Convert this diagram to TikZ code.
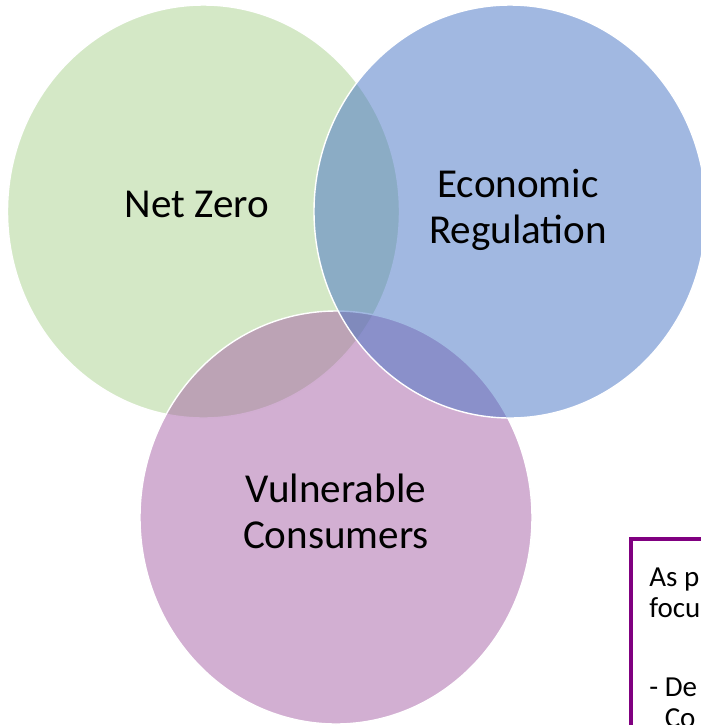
\documentclass[tikz,border=0pt]{standalone}
\usepackage{fontspec}
\setmainfont{Carlito}
\definecolor{nzgreen}{HTML}{A9D18E}
\definecolor{erblue}{HTML}{4472C4}
\definecolor{vcpurple}{HTML}{A55FA5}
\definecolor{boxpurple}{HTML}{800080}
\begin{document}
\begin{tikzpicture}[x=0.02cm, y=-0.02cm,
		venn/.style={draw=white, line width=0.8pt, fill opacity=0.5},
		vennlabel/.style={anchor=base, align=center, text=black, font=\fontsize{23.4}{26.1}\selectfont},
		notetext/.style={anchor=base west, align=left, inner sep=0pt, text=black, font=\fontsize{16.5}{17.6}\selectfont}]
	\useasboundingbox (0,0) rectangle (701,725);
	\clip (0,0) rectangle (701,725);
	
	%Net Zero circle
	\path[venn, fill=nzgreen] (203.5,211.5) ellipse [x radius=196, y radius=206.5];
	%Vulnerable Consumers circle
	\path[venn, fill=vcpurple] (336,517.5) ellipse [x radius=196, y radius=206.5];
	%Economic Regulation circle
	\path[venn, fill=erblue] (510,211.5) ellipse [x radius=196, y radius=206.5];
	
	%labels (base is the last line)
	\node[vennlabel] (netzero) at (197,217) {Net Zero};
	\node[vennlabel] (econreg) at (518,243) {Economic\\Regulation};
	\node[vennlabel] (vulcons) at (336,548) {Vulnerable\\Consumers};
	
	%Note box, cut at the edge
	\draw[boxpurple, line width=2.3pt] (631,539) rectangle (760,780);
	\node[notetext] (note) at (649,727) {As p\\focu\\[27pt]- De\\\hphantom{- }Co};
\end{tikzpicture}
\end{document}
